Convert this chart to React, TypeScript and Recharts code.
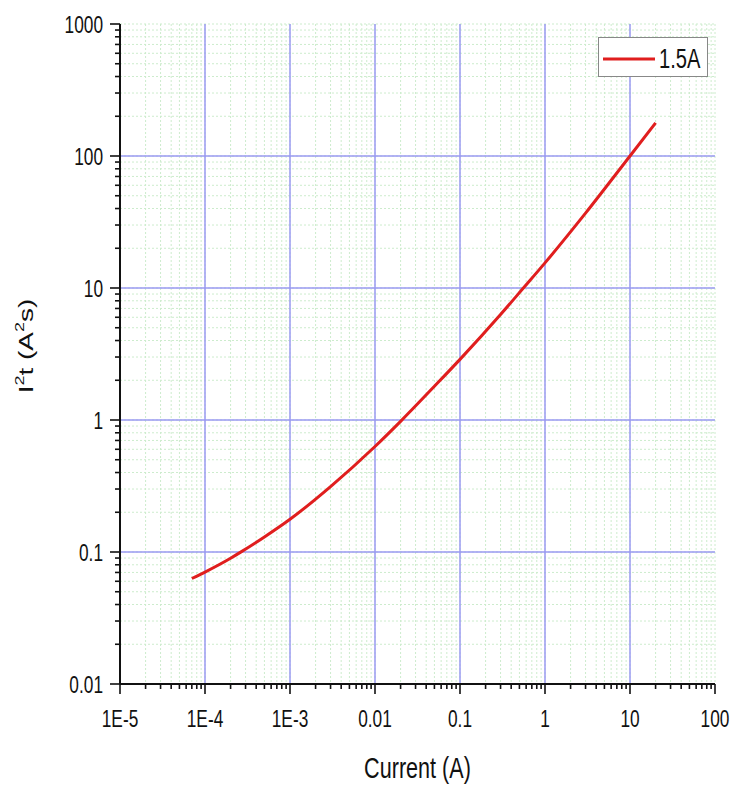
import React from "react";
import {
  CartesianGrid,
  Label,
  Line,
  LineChart,
  ReferenceLine,
  XAxis,
  YAxis,
} from "recharts";

// I2t curve for the 1.5A part
const currentA = [7e-5, 1e-4, 2e-4, 2.6e-4, 5e-4, 1e-3, 3e-3, 0.01, 0.02, 0.05, 0.1, 0.3, 0.55, 1, 3, 10, 20];
const i2t = [0.063, 0.0705, 0.0897, 0.0993, 0.13, 0.177, 0.313, 0.63, 0.977, 1.8, 2.88, 6.3, 9.9, 15.5, 36.9, 100, 178];

const xMajor = [1e-5, 1e-4, 1e-3, 0.01, 0.1, 1, 10, 100];
const xLabels = ["1E-5", "1E-4", "1E-3", "0.01", "0.1", "1", "10", "100"];
const yMajor = [0.01, 0.1, 1, 10, 100, 1000];
const yLabels = ["0.01", "0.1", "1", "10", "100", "1000"];
const minorSteps = [2, 3, 4, 5, 6, 7, 8, 9];

const seriesName = "1.5A";

const data = currentA.map((x, i) => ({ x, y: i2t[i] }));

const withMinor = (majors: number[]) => {
  const out: number[] = [];
  majors.forEach((m, i) => {
    out.push(m);
    if (i < majors.length - 1) minorSteps.forEach((s) => out.push(m * s));
  });
  return out;
};
const xTicks = withMinor(xMajor);
const yTicks = withMinor(yMajor);

const FONT = "'Liberation Sans', Arial, sans-serif";
const SQ = 0.72; // text in the source is horizontally squeezed
const RED = "#e01e1e";

const majorIndex = (v: number, majors: number[]) =>
  majors.findIndex((m) => Math.abs(Math.log10(v) - Math.log10(m)) < 1e-6);

function XTick({ x, y, payload }: any) {
  const idx = majorIndex(payload.value, xMajor);
  const major = idx >= 0;
  return (
    <g>
      <line x1={x} x2={x} y1={y} y2={y + (major ? 10 : 5)} stroke="#111" strokeWidth={1.6} />
      {major && (
        <text
          transform={`translate(${x},${y + 43}) scale(${SQ},1)`}
          textAnchor="middle"
          fontSize={24}
          fontFamily={FONT}
          fill="#111"
        >
          {xLabels[idx]}
        </text>
      )}
    </g>
  );
}

function YTick({ x, y, payload }: any) {
  const idx = majorIndex(payload.value, yMajor);
  const major = idx >= 0;
  return (
    <g>
      <line x1={x} x2={x - (major ? 10 : 5)} y1={y} y2={y} stroke="#111" strokeWidth={1.6} />
      {major && (
        <text
          transform={`translate(${x - 17},${y + 8.5}) scale(${SQ},1)`}
          textAnchor="end"
          fontSize={24}
          fontFamily={FONT}
          fill="#111"
        >
          {yLabels[idx]}
        </text>
      )}
    </g>
  );
}

function XTitle({ viewBox }: any) {
  const cx = viewBox.x + viewBox.width / 2;
  return (
    <text
      transform={`translate(${cx},${viewBox.y + 94}) scale(${SQ},1)`}
      textAnchor="middle"
      fontSize={30}
      fontFamily={FONT}
      fill="#111"
    >
      Current (A)
    </text>
  );
}

function YTitle({ viewBox }: any) {
  return (
    <text
      transform={`translate(${viewBox.x + 6},${viewBox.y + viewBox.height / 2 - 8}) scale(${SQ},1) rotate(-90)`}
      textAnchor="middle"
      dominantBaseline="central"
      fontSize={28}
      fontFamily={FONT}
      fill="#111"
    >
      I<tspan fontSize={18} dy={-10}>2</tspan>
      <tspan dy={10}>t (A</tspan>
      <tspan fontSize={18} dy={-10}>2</tspan>
      <tspan dy={10}>s)</tspan>
    </text>
  );
}

function LegendBox() {
  return (
    <div
      style={{
        position: "absolute",
        left: 598,
        top: 37,
        border: "1px solid #888",
        background: "#fff",
        width: 108,
        height: 38,
      }}
    >
      <svg width={108} height={38} style={{ display: "block" }}>
        <line x1={4} x2={56} y1={21} y2={21} stroke={RED} strokeWidth={3} />
        <text
          transform={`translate(60,30) scale(${SQ},1)`}
          fontSize={28}
          fontFamily={FONT}
          fill="#111"
        >
          {seriesName}
        </text>
      </svg>
    </div>
  );
}

export default function App() {
  return (
    <div
      style={{
        position: "fixed",
        left: 0,
        top: 0,
        width: 733,
        height: 792,
        background: "#fff",
      }}
    >
      <LineChart
        width={733}
        height={792}
        data={data}
        margin={{ top: 24, right: 18, left: 20, bottom: 48 }}
      >
        <CartesianGrid stroke="#cdeccd" strokeDasharray="2 2" strokeWidth={1} />
        {xMajor.slice(1, -1).map((v) => (
          <ReferenceLine key={"x" + v} x={v} stroke="#9a9af2" strokeWidth={1.5} />
        ))}
        {yMajor.slice(1, -1).map((v) => (
          <ReferenceLine key={"y" + v} y={v} stroke="#9a9af2" strokeWidth={1.5} />
        ))}
        <XAxis
          dataKey="x"
          type="number"
          scale="log"
          domain={[1e-5, 100]}
          ticks={xTicks}
          interval={0}
          allowDataOverflow
          height={60}
          tickSize={0}
          tickMargin={0}
          tickLine={false}
          axisLine={{ stroke: "#111", strokeWidth: 2 }}
          tick={<XTick />}
        >
          <Label content={<XTitle />} />
        </XAxis>
        <YAxis
          dataKey="y"
          type="number"
          scale="log"
          domain={[0.01, 1000]}
          ticks={yTicks}
          interval={0}
          allowDataOverflow
          width={100}
          tickSize={0}
          tickMargin={0}
          tickLine={false}
          axisLine={{ stroke: "#111", strokeWidth: 2 }}
          tick={<YTick />}
        >
          <Label content={<YTitle />} />
        </YAxis>
        <Line
          type="monotone"
          dataKey="y"
          name={seriesName}
          stroke={RED}
          strokeWidth={3}
          dot={false}
          isAnimationActive={false}
        />
      </LineChart>
      <LegendBox />
    </div>
  );
}
